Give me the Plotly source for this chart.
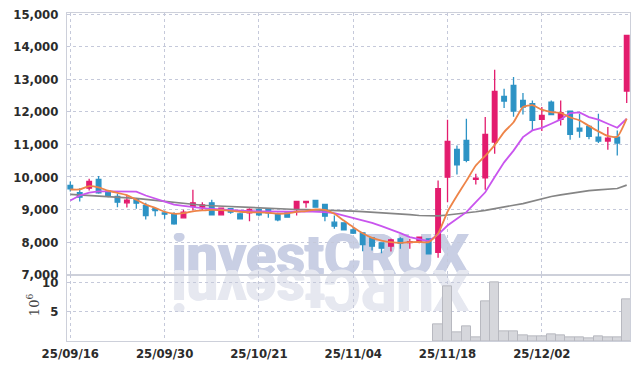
import plotly.graph_objects as go
from plotly.subplots import make_subplots

dates = ["25/09/16", "25/09/17", "25/09/18", "25/09/19", "25/09/22", "25/09/23", "25/09/24", "25/09/25",
         "25/09/26", "25/09/29", "25/09/30", "25/10/01", "25/10/02", "25/10/10", "25/10/13", "25/10/14",
         "25/10/15", "25/10/16", "25/10/17", "25/10/20", "25/10/21", "25/10/22", "25/10/23", "25/10/24",
         "25/10/27", "25/10/28", "25/10/29", "25/10/30", "25/10/31", "25/11/03", "25/11/04", "25/11/05",
         "25/11/06", "25/11/07", "25/11/10", "25/11/11", "25/11/12", "25/11/13", "25/11/14", "25/11/17",
         "25/11/18", "25/11/19", "25/11/20", "25/11/21", "25/11/24", "25/11/25", "25/11/26", "25/11/27",
         "25/11/28", "25/12/01", "25/12/02", "25/12/03", "25/12/04", "25/12/05", "25/12/08", "25/12/09",
         "25/12/10", "25/12/11", "25/12/12", "25/12/15"]

opens = [9738, 9514, 9655, 9923, 9563, 9400, 9206, 9329, 9123, 9022,
         8898, 8867, 8745, 9100, 9071, 9206, 8837, 9022, 8867, 8898,
         9000, 9000, 8867, 8898, 9000, 9215, 9277, 9154, 8610, 8590,
         8375, 8283, 8129, 7975, 7871, 8098, 7984, 7994, 8098, 7686,
         9994, 10846, 11123, 9930, 9975, 11071, 12477, 12815, 12354, 12252,
         11769, 12302, 11769, 12025, 11503, 11554, 11225, 11102, 11225, 12640]
highs = [9862, 9655, 9944, 10030, 9563, 9483, 9440, 9329, 9206, 9040,
         8969, 8918, 8990, 9606, 9225, 9298, 9060, 9040, 8898, 9040,
         9040, 9022, 8898, 8918, 9248, 9248, 9277, 9175, 8815, 8610,
         8456, 8302, 8148, 7994, 8098, 8148, 8098, 8160, 8098, 9892,
         11760, 10969, 11791, 10098, 11840, 13298, 12714, 13071, 12579, 12354,
         12148, 12354, 12354, 12025, 11944, 11600, 11944, 11533, 11431, 14354]
lows = [9554, 9246, 9585, 9483, 9378, 9071, 9060, 9022, 8692, 8794,
        8714, 8529, 8733, 8969, 8969, 8815, 8815, 8867, 8714, 8640,
        8794, 8745, 8640, 8745, 8815, 9052, 9071, 8640, 8406, 8354,
        8250, 7717, 7738, 7656, 7707, 7790, 7790, 7963, 7637, 7514,
        9225, 10077, 10455, 9769, 9606, 10713, 12120, 11850, 11923, 11410,
        11410, 11914, 11585, 11144, 11206, 11160, 11040, 10837, 10662, 12271]
closes = [9637, 9378, 9862, 9514, 9431, 9225, 9290, 9194, 8815, 8969,
          8856, 8560, 8918, 9206, 9144, 8837, 9040, 8918, 8714, 9000,
          8837, 8898, 8683, 8765, 9248, 9248, 9071, 8794, 8486, 8375,
          8271, 7923, 7871, 7810, 8067, 7963, 8010, 8148, 7637, 9637,
          11092, 10375, 10508, 9960, 11308, 12631, 12333, 12025, 12148, 11738,
          11892, 11914, 11975, 11308, 11410, 11246, 11102, 11195, 11040, 14354]

ma5 = [9615, 9615, 9720, 9680, 9580, 9510, 9440, 9300, 9150, 9050,
       8930, 8870, 8886, 8940, 8970, 8990, 8980, 8960, 8930, 8918,
       8910, 8898, 8870, 8880, 8930, 8950, 9000, 8990, 8870, 8660,
       8456, 8271, 8129, 8046, 7994, 7975, 7994, 8000, 7994, 8260,
       8930, 9420, 9880, 10350, 10650, 10980, 11380, 11680, 12148, 12210,
       12067, 11994, 11970, 11830, 11738, 11570, 11400, 11260, 11235, 11790]
ma10 = [9277, 9431, 9520, 9554, 9554, 9554, 9554, 9550, 9430, 9330,
        9240, 9150, 9110, 9070, 9040, 9020, 9000, 8970, 8950, 8948,
        8945, 8940, 8930, 8920, 8930, 8945, 8935, 8918, 8886, 8815,
        8745, 8683, 8590, 8486, 8384, 8271, 8148, 8098, 8025, 8230,
        8508, 8714, 8918, 9225, 9530, 10000, 10450, 10810, 11225, 11431,
        11510, 11636, 11769, 11963, 11985, 11840, 11760, 11636, 11513, 11790]
ma_long = [9462, 9445, 9430, 9415, 9400, 9385, 9365, 9340, 9310, 9280,
           9230, 9200, 9170, 9150, 9130, 9115, 9100, 9085, 9070, 9055,
           9040, 9030, 9020, 9010, 9000, 8995, 8990, 8985, 8980, 8960,
           8950, 8935, 8920, 8905, 8890, 8865, 8840, 8815, 8800, 8805,
           8830, 8860, 8895, 8930, 8975, 9020, 9080, 9130, 9180, 9260,
           9340, 9400, 9450, 9500, 9545, 9580, 9605, 9625, 9645, 9750]

volume = [None, None, None, None, None, None, None, None, None, None,
          None, None, None, None, None, None, None, None, None, None,
          None, None, None, None, None, None, None, None, None, None,
          None, None, None, None, None, None, None, None, None, 2.8,
          9.45, 1.55, 2.45, 0.7, 6.8, 10.1, 1.6, 1.6, 0.95, 0.8,
          0.8, 1.1, 0.95, 0.6, 0.6, 0.45, 0.8, 0.6, 0.6, 7.1]

tick_labels = ["25/09/16", "25/09/30", "25/10/21", "25/11/04", "25/11/18", "25/12/02"]
price_ticks = [7000, 8000, 9000, 10000, 11000, 12000, 13000, 14000, 15000]
vol_ticks = [5, 10]

UP = "#E31C6E"
DOWN = "#2D93C5"
GRID = "#c5c9da"
AXLINE = "#cdd0da"
TXT = "#2b2b2b"
FONT = "DejaVu Sans Condensed, Roboto, sans-serif"
WM = "#c9cfe4"
WM2 = "#e6e8f0"

fig = make_subplots(rows=2, cols=1, shared_xaxes=True, vertical_spacing=0.0015,
                    row_heights=[0.798, 0.2])

fig.add_trace(go.Scatter(x=dates, y=ma_long, mode="lines",
                         line=dict(color="#858585", width=1.7), hoverinfo="skip"), row=1, col=1)
fig.add_trace(go.Scatter(x=dates, y=ma10, mode="lines",
                         line=dict(color="#C955EE", width=1.8), hoverinfo="skip"), row=1, col=1)
fig.add_trace(go.Scatter(x=dates, y=ma5, mode="lines",
                         line=dict(color="#EE8448", width=1.8, shape="spline", smoothing=0.5),
                         hoverinfo="skip"), row=1, col=1)
fig.add_trace(go.Candlestick(x=dates, open=opens, high=highs, low=lows, close=closes,
                             increasing=dict(line=dict(color=UP, width=1.3), fillcolor=UP),
                             decreasing=dict(line=dict(color=DOWN, width=1.3), fillcolor=DOWN),
                             whiskerwidth=0), row=1, col=1)
fig.add_trace(go.Bar(x=dates, y=volume, marker=dict(color="#d6d7dc",
                                                     line=dict(color="#b8b9c0", width=1))),
              row=2, col=1)

# watermark (drawn below grid and data)
fig.add_shape(type="rect", xref="paper", yref="paper", x0=0.15, x1=0.75, y0=0.2, y1=0.35,
              line=dict(width=0), fillcolor="rgba(0,0,0,0)", layer="below",
              label=dict(text="investCRUX", textposition="middle center",
                         font=dict(family="Roboto, sans-serif", size=56, color=WM, weight="bold",
                                   shadow=f"1px 0 0 {WM}, -1px 0 0 {WM}, 0 1px 0 {WM}")))
fig.add_shape(type="rect", xref="paper", yref="paper", x0=0.15, x1=0.75, y0=0.068, y1=0.218,
              line=dict(width=0), fillcolor="rgba(0,0,0,0)", layer="below",
              label=dict(text="XURCtsevni", textposition="middle center", textangle=180,
                         font=dict(family="Roboto, sans-serif", size=56, color=WM2, weight="bold",
                                   shadow=f"1px 0 0 {WM2}, -1px 0 0 {WM2}, 0 1px 0 {WM2}")))

# volume unit label
fig.add_annotation(text="10<sup>6</sup>", xref="paper", yref="paper", x=-0.06, y=0.11,
                   textangle=-90, showarrow=False, xanchor="center", yanchor="middle",
                   font=dict(family="DejaVu Serif, serif", size=13, color="#444"))

axis_common = dict(showline=True, linecolor=AXLINE, linewidth=1, mirror=True, automargin=False,
                   showgrid=True, gridcolor=GRID, griddash="dot", gridwidth=1, zeroline=False)

fig.update_xaxes(type="category", tickmode="array", tickvals=tick_labels, ticktext=tick_labels,
                 range=[-0.35, 59.35], rangeslider=dict(visible=False),
                 tickfont=dict(family=FONT, size=13, color=TXT, weight="bold"), ticks="", **axis_common)
fig.update_xaxes(showticklabels=False, row=1, col=1)

fig.update_yaxes(range=[6990, 15040], tickmode="array", tickvals=price_ticks, tickformat=",",
                 tickfont=dict(family=FONT, size=13, color=TXT, weight="bold"), ticks="", ticklabelstandoff=5,
                 row=1, col=1, **axis_common)
fig.update_yaxes(range=[0, 11.26], tickmode="array", tickvals=vol_ticks,
                 tickfont=dict(family=FONT, size=13, color=TXT, weight="bold"), ticks="", ticklabelstandoff=5,
                 row=2, col=1, **axis_common)

fig.update_layout(width=639, height=369, margin=dict(l=67, r=9, t=13, b=28),
                  paper_bgcolor="white", plot_bgcolor="rgba(0,0,0,0)", showlegend=False,
                  bargap=0)

fig.write_html("out.html", config={"displayModeBar": False},
               post_script="document.body.style.margin='0';")
